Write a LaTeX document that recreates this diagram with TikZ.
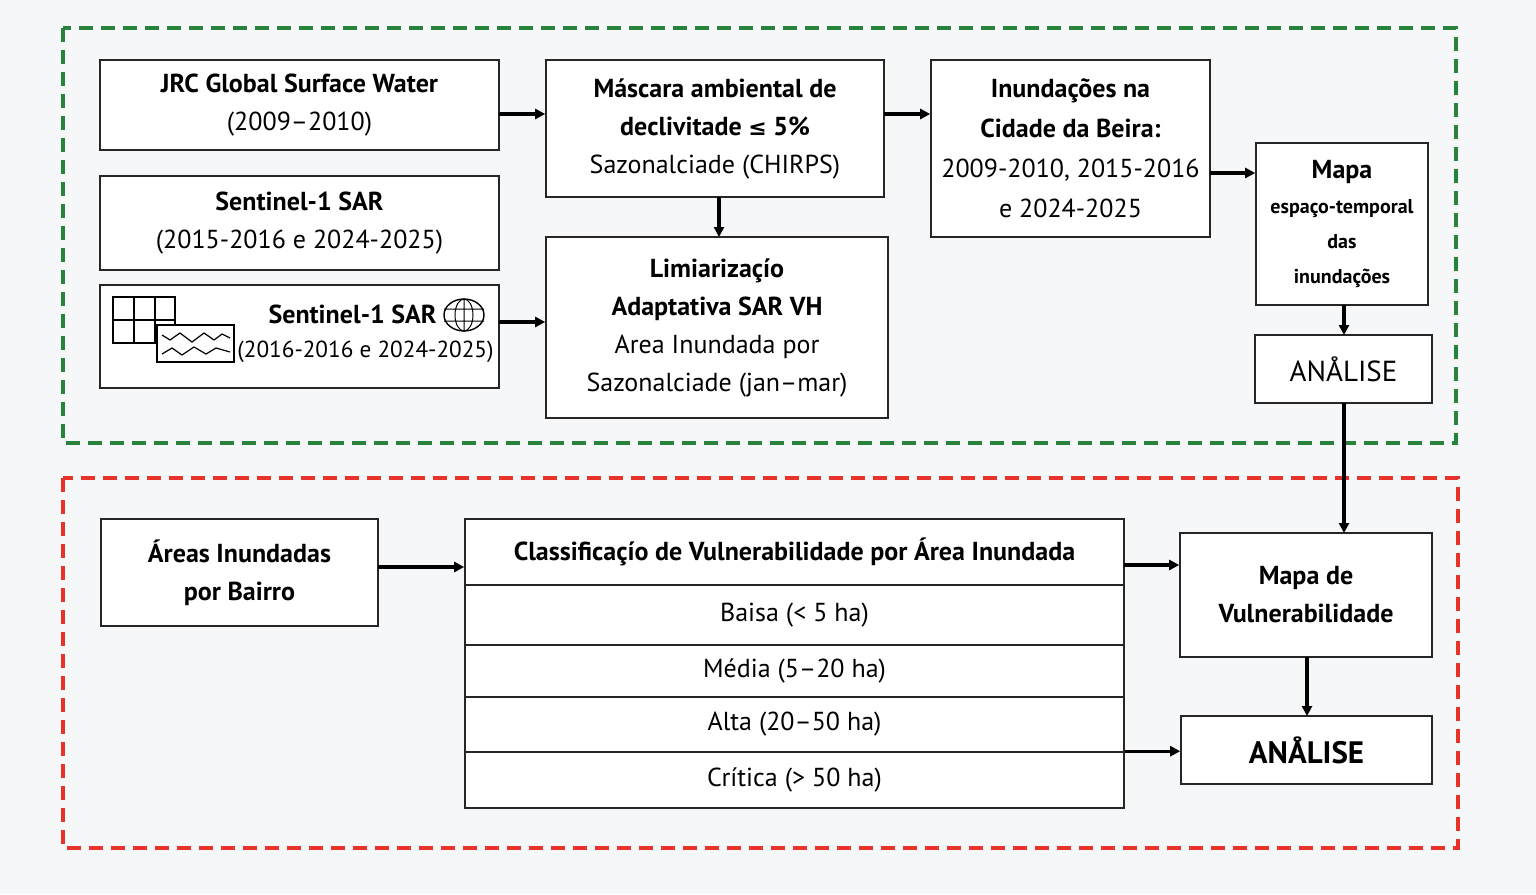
\documentclass[tikz,border=0pt]{standalone}
\usepackage{fontspec}
\setmainfont{PT Sans}
\newfontfamily\djv{DejaVu Sans}
\usetikzlibrary{fit,arrows.meta}
\definecolor{gdash}{RGB}{40,130,60}
\definecolor{rdash}{RGB}{230,50,40}
\definecolor{bgc}{RGB}{246,247,249}
\begin{document}
\begin{tikzpicture}[x=0.5pt,y=-0.5pt,
  box/.style={draw=black!85,line width=0.8pt,fill=white,inner sep=0pt},
  txt/.style={align=center,font=\fontsize{13}{19}\selectfont,inner sep=0pt},
  arr/.style={line width=1.6pt,-{Triangle[length=5pt,width=5pt]}},
  frame/.style={line width=1.6pt,dash pattern=on 7pt off 4pt}]
\fill[bgc] (0,0) rectangle (1536,894);
\useasboundingbox (0,0) rectangle (1536,894);
\draw[frame,gdash] (63,28) rectangle (1456,443);
\draw[frame,rdash] (63,478) rectangle (1458,848);
% boxes
\node[box,fit={(100,60)(499,150)}] (jrc) {};
\node[txt] at (jrc) {\textbf{JRC Global Surface Water}\\(2009–2010)};
\node[box,fit={(100,176)(499,270)}] (s1) {};
\node[txt] at (s1) {\textbf{Sentinel-1 SAR}\\(2015-2016 e 2024-2025)};
\node[box,fit={(100,285)(499,388)}] (s2) {};
% icons
\draw[line width=0.7pt] (113,297) rectangle (175,343) (134,297)--(134,343) (155,297)--(155,343) (113,320)--(175,320);
\draw[line width=0.7pt,fill=white] (157,325) rectangle (234,362);
\draw[line width=0.6pt] (162,335)--(170,340)--(180,333)--(192,342)--(204,333)--(214,340)--(222,334)--(230,338);
\draw[line width=0.6pt] (162,354)--(172,348)--(182,355)--(194,347)--(206,354)--(216,348)--(230,352);
\draw[line width=0.7pt] (464,315) ellipse (20 and 16);
\draw[line width=0.5pt] (464,315) ellipse (9 and 16) (464,299)--(464,331) (444,309)--(484,309) (444,321)--(484,321);
\node[txt,anchor=east] at (437,314) {\textbf{Sentinel-1 SAR}};
\node[txt,anchor=east,font=\fontsize{11.6}{14}\selectfont] at (494,352) {(2016-2016 e 2024-2025)};
\node[box,fit={(546,60)(884,197)}] (mas) {};
\node[txt] at (mas) {\textbf{Máscara ambiental de}\\\textbf{declivitade {\djv\fontsize{11}{12}\selectfont ≤} 5\%}\\Sazonalciade (CHIRPS)};
\node[box,fit={(546,237)(888,418)}] (lim) {};
\node[txt] at (lim) {\textbf{Limiarizaçío}\\\textbf{Adaptativa SAR VH}\\Area Inundada por\\Sazonalciade (jan–mar)};
\node[box,fit={(931,60)(1210,237)}] (inu) {};
\node[txt,font=\fontsize{13}{20}\selectfont] at (inu) {\textbf{Inundações na}\\\textbf{Cidade da Beira:}\\2009-2010, 2015-2016\\e 2024-2025};
\node[box,fit={(1256,143)(1428,305)}] (map) {};
\node[txt,font=\fontsize{10}{17.5}\selectfont\bfseries] at (map) {{\fontsize{13}{15}\selectfont Mapa}\\espaço-temporal\\das\\inundações};
\node[box,fit={(1255,335)(1432,403)}] (an1) {};
\node[txt,font=\fontsize{14.5}{16}\selectfont] at (an1) {ANÅLISE};
\node[box,fit={(101,519)(378,626)}] (are) {};
\node[txt] at (are) {\textbf{Áreas Inundadas}\\\textbf{por Bairro}};
\node[box,fit={(465,519)(1124,585)}] (hdr) {};
\node[txt] at (hdr) {\textbf{Classificaçío de Vulnerabilidade por Área Inundada}};
\node[box,fit={(465,585)(1124,645)}] (r1) {};
\node[txt] at (r1) {Baisa (< 5 ha)};
\node[box,fit={(465,645)(1124,697)}] (r2) {};
\node[txt] at (r2) {Média (5–20 ha)};
\node[box,fit={(465,697)(1124,752)}] (r3) {};
\node[txt] at (r3) {Alta (20–50 ha)};
\node[box,fit={(465,752)(1124,808)}] (r4) {};
\node[txt] at (r4) {Crítica (> 50 ha)};
\node[box,fit={(1180,533)(1432,657)}] (mv) {};
\node[txt] at (mv) {\textbf{Mapa de}\\\textbf{Vulnerabilidade}};
\node[box,fit={(1181,716)(1432,784)}] (an2) {};
\node[txt,font=\fontsize{15.5}{17}\selectfont\bfseries] at (an2) {ANÅLISE};
% arrows
\coordinate (a1) at (499,114); \draw[arr] (a1) -- (a1 -| mas.west);
\coordinate (a2) at (499,322); \draw[arr] (a2) -- (a2 -| lim.west);
\draw[arr] (719,197) -- (719,237);
\coordinate (a3) at (884,114); \draw[arr] (a3) -- (a3 -| inu.west);
\coordinate (a4) at (1210,173); \draw[arr] (a4) -- (a4 -| map.west);
\draw[arr] (1344,305) -- (1344,335);
\draw[arr] (1344,403) -- (1344,533);
\coordinate (a5) at (378,567); \draw[arr] (a5) -- (a5 -| hdr.west);
\coordinate (a6) at (1124,565); \draw[arr] (a6) -- (a6 -| mv.west);
\draw[arr] (1307,657) -- (1307,716);
\draw[arr] (r4.north east) -- (r4.north east -| an2.west);
\end{tikzpicture}
\end{document}
